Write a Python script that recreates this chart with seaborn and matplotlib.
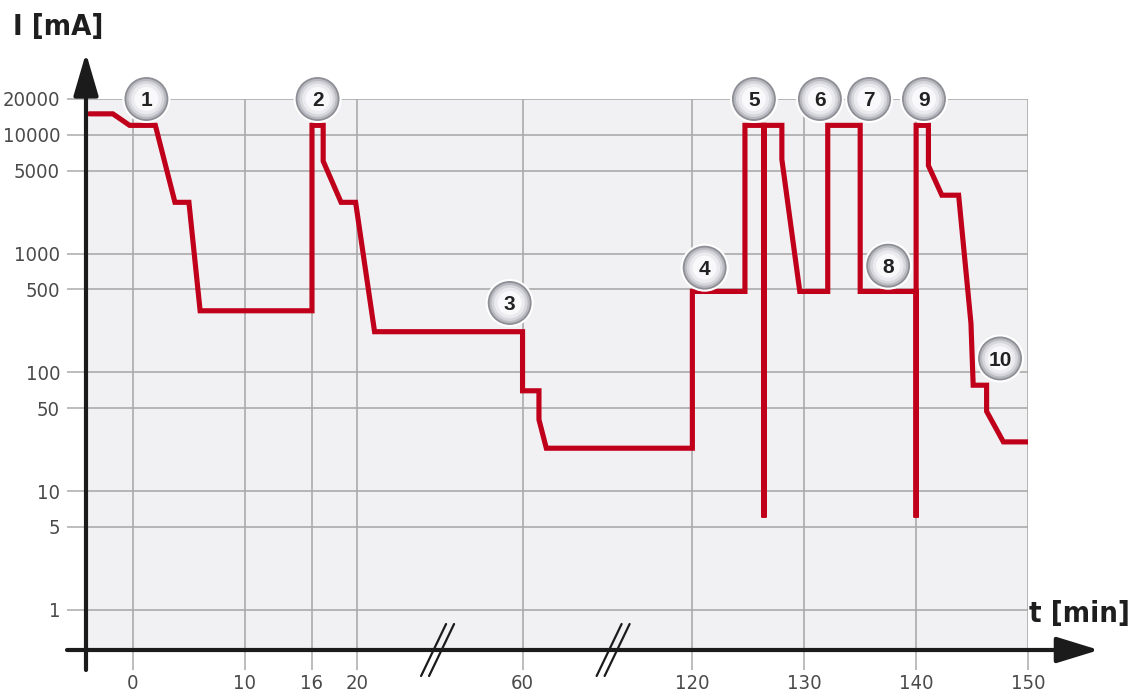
import numpy as np
import pandas as pd
import matplotlib
matplotlib.use("Agg")
import matplotlib.pyplot as plt
import matplotlib.transforms as mtransforms
from matplotlib.ticker import NullLocator, FixedLocator, FixedFormatter
import seaborn as sns

# ---------------- data ----------------
t_min = [-3.9, -1.8, -0.3, 2.0, 3.75, 5.0, 6.0, 16.0, 16.0, 17.0, 17.0, 18.6, 19.9,
         24.3, 60.0, 60.0, 65.8, 65.8, 68.4, 120.0, 120.0, 124.7, 124.7, 126.4,
         126.4, 126.4, 128.0, 128.0, 129.6, 132.1, 132.1, 135.0, 135.0, 140.0,
         140.0, 140.0, 141.1, 141.1, 142.3, 143.8, 144.9, 145.1, 146.3, 146.3,
         147.8, 150.0]
current_mA = [15000, 15000, 12000, 12000, 2700, 2700, 330, 330, 12000, 12000, 6000,
              2700, 2700, 220, 220, 70, 70, 40, 23, 23, 480, 480, 12000, 12000,
              6, 12000, 12000, 6200, 480, 480, 12000, 12000, 480, 480,
              6, 12000, 12000, 5500, 3100, 3100, 260, 78, 78, 47,
              26, 26]

marker_labels = ["1", "2", "3", "4", "5", "6", "7", "8", "9", "10"]
marker_t = [1.2, 16.5, 56.9, 121.1, 125.5, 131.4, 135.8, 137.5, 140.7, 147.5]
marker_I = [20000, 20000, 384, 761, 20000, 20000, 20000, 791, 20000, 131]

x_ticks = [0, 10, 16, 20, 60, 120, 130, 140, 150]
y_ticks = [1, 5, 10, 50, 100, 500, 1000, 5000, 10000, 20000]
y_tick_labels = ["1", "5", "10", "50", "100", "500", "1000", "5000", "10000", "20000"]
axis_breaks = [39.5, 92.0]

# broken time axis: piecewise linear mapping (minutes -> axis units)
scale_t = [-1000, 20, 60, 120, 1000]
scale_u = [-1000, 20, 34.82, 50, 930]

df = pd.DataFrame({"t": t_min, "I": current_mA})

# ---------------- style ----------------
sns.set_theme(style="white")
plt.rcParams["font.family"] = ["Liberation Sans", "DejaVu Sans"]

W, H = 1134, 698
fig = plt.figure(figsize=(W / 100, H / 100), dpi=100)
ax_left, ax_right, ax_top, ax_bottom = 86, 1028, 99, 650
ax = fig.add_axes([ax_left / W, (H - ax_bottom) / H,
                   (ax_right - ax_left) / W, (ax_bottom - ax_top) / H])

def fwd(t):
    return np.interp(t, scale_t, scale_u)

def inv(u):
    return np.interp(u, scale_u, scale_t)

ax.set_xscale("function", functions=(fwd, inv))
ax.set_yscale("log")
ax.set_xlim(-4.2, 150)
ax.set_ylim(10 ** ((610 - 650) / 118.8), 20000)
ax.set_facecolor("#f1f1f4")

grid_col = "#ababab"
ax.xaxis.set_major_locator(FixedLocator(x_ticks))
ax.xaxis.set_major_formatter(FixedFormatter([str(v) for v in x_ticks]))
ax.xaxis.set_minor_locator(NullLocator())
ax.yaxis.set_major_locator(FixedLocator(y_ticks))
ax.yaxis.set_major_formatter(FixedFormatter(y_tick_labels))
ax.yaxis.set_minor_locator(NullLocator())
ax.grid(True, color=grid_col, linewidth=1.2, zorder=0)
ax.tick_params(axis="x", length=14.4, width=1.1, color=grid_col, pad=3,
               labelsize=14.5, labelcolor="#4a4a4a", bottom=True)
ax.tick_params(axis="y", length=13.7, width=1.1, color=grid_col, pad=5,
               labelsize=14.5, labelcolor="#4a4a4a", left=True)
for lbl in ax.get_xticklabels() + ax.get_yticklabels():
    lbl.set_fontstretch("condensed")
    lbl.set_family(["DejaVu Sans"])
for s in ax.spines.values():
    s.set_visible(False)

# ---------------- line ----------------
sns.lineplot(data=df, x="t", y="I", sort=False, estimator=None, ax=ax,
             color="#c0001a", linewidth=3.7, zorder=3)
ax.lines[-1].set_solid_joinstyle("miter")
ax.set_xlabel("")
ax.set_ylabel("")

# ---------------- axes arrows ----------------
axis_col = "#1b1b1b"
ax.annotate("", xy=(0, (650 - 53) / 551), xytext=(0, (650 - 670) / 551),
            xycoords="axes fraction", textcoords="axes fraction",
            arrowprops=dict(arrowstyle="-|>,head_length=1.3,head_width=0.38",
                            mutation_scale=20, lw=3, color=axis_col,
                            shrinkA=0, shrinkB=0), annotation_clip=False, zorder=6)
ax.annotate("", xy=((1099 - 86) / 942, 0), xytext=((67 - 86) / 942, 0),
            xycoords="axes fraction", textcoords="axes fraction",
            arrowprops=dict(arrowstyle="-|>,head_length=1.3,head_width=0.4",
                            mutation_scale=20, lw=3, color=axis_col,
                            shrinkA=0, shrinkB=0), annotation_clip=False, zorder=6)

# axis break marks ("//")
fig.canvas.draw()
btrans = mtransforms.blended_transform_factory(ax.transData, ax.transAxes)
for b in axis_breaks:
    base = btrans.transform((b, 0))
    for dx in (-4, 4):
        line = plt.Line2D([-12.5, 12.5], [-26, 26],
                          transform=mtransforms.Affine2D().translate(base[0] + dx, base[1]),
                          color=axis_col, lw=1.6, clip_on=False, zorder=7)
        fig.add_artist(line)

# ---------------- numbered markers ----------------
sizes = [1200, 1000, 840, 670, 490, 300]
cols = ["#ffffff", "#8e8e96", "#b9b9c0", "#d6d6dc", "#ebebef", "#f9f9fb"]
for i, (s, c) in enumerate(zip(sizes, cols)):
    ax.scatter(marker_t, marker_I, s=s, color=c, edgecolors="none",
               zorder=8 + i * 0.1, clip_on=False)
for lab, tt, ii in zip(marker_labels, marker_t, marker_I):
    ax.text(tt, ii, lab, ha="center", va="center_baseline", fontsize=15,
            fontweight="bold", color="#222222", zorder=10, clip_on=False)

# ---------------- axis titles ----------------
fig.text(13 / W, 1 - 27 / H, "I [mA]", ha="left", va="center", fontsize=21,
         fontweight="bold", color="#1e1e1e", fontstretch="condensed",
         family=["DejaVu Sans"])
fig.text(1130 / W, 1 - 614 / H, "t [min]", ha="right", va="center", fontsize=21,
         fontweight="bold", color="#1e1e1e", fontstretch="condensed",
         family=["DejaVu Sans"])

fig.savefig("out.png", dpi=100, facecolor="white")
